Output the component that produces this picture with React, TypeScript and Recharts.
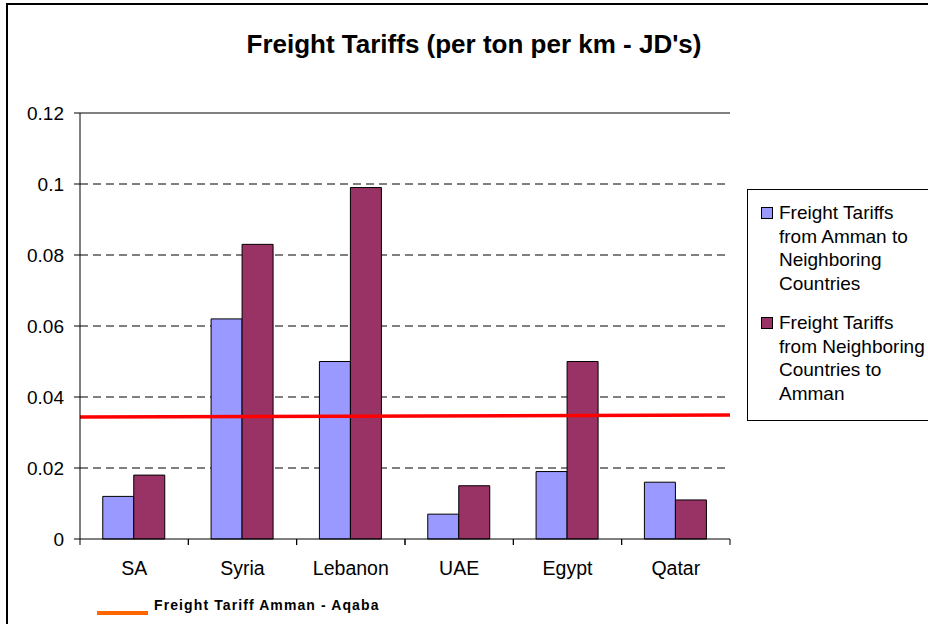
import { BarChart, Bar, XAxis, YAxis, CartesianGrid, ReferenceLine, Legend } from "recharts";

const CATEGORIES = ["SA", "Syria", "Lebanon", "UAE", "Egypt", "Qatar"];
const FROM_AMMAN = [0.012, 0.062, 0.05, 0.007, 0.019, 0.016];
const TO_AMMAN = [0.018, 0.083, 0.099, 0.015, 0.05, 0.011];
const Y_TICKS = [0, 0.02, 0.04, 0.06, 0.08, 0.1, 0.12];
// Amman - Aqaba tariff, value at the left and right end of the drawn line
const AQABA_TARIFF = [0.0344, 0.035];

const TITLE = "Freight Tariffs (per ton per km - JD's)";
const SERIES = [
  { key: "fromAmman", name: "Freight Tariffs from Amman to Neighboring Countries", lines: ["Freight Tariffs", "from Amman to", "Neighboring", "Countries"], color: "#9999FF" },
  { key: "toAmman", name: "Freight Tariffs from Neighboring Countries to Amman", lines: ["Freight Tariffs", "from Neighboring", "Countries to", "Amman"], color: "#993366" },
];
const LINE_LABEL = "Freight Tariff Amman - Aqaba";

const data = CATEGORIES.map((c, i) => ({ name: c, fromAmman: FROM_AMMAN[i], toAmman: TO_AMMAN[i] }));

const FONT = "'Liberation Sans', Arial, sans-serif";
const W = 928;
const H = 624;
const MARGIN = { top: 113, right: 198, bottom: 35, left: 0 };
const Y_W = 80;
const CAT_W = (W - MARGIN.left - MARGIN.right - Y_W) / CATEGORIES.length;

function CatTick(props: any) {
  const { x, y, payload } = props;
  return (
    <g>
      <line x1={x - CAT_W / 2} x2={x - CAT_W / 2} y1={y - 6} y2={y} stroke="#000" />
      <line x1={x + CAT_W / 2} x2={x + CAT_W / 2} y1={y - 6} y2={y} stroke="#000" />
      <text x={x} y={y + 30} textAnchor="middle" fontSize={19.5} fontFamily={FONT} fill="#000">
        {payload.value}
      </text>
    </g>
  );
}

function Legends() {
  return (
    <div style={{ position: "relative", width: W, height: H, fontFamily: FONT, color: "#000" }}>
      <div style={{ position: "absolute", left: 747, top: 189, width: 200, height: 230, border: "1px solid #000", background: "#fff" }}>
        {SERIES.map((s, i) => (
          <div key={s.key} style={{ position: "absolute", left: 0, top: 11 + i * 110 }}>
            <div style={{ position: "absolute", left: 13, top: 6, width: 10, height: 10, background: s.color, border: "1px solid #000" }} />
            <div style={{ position: "absolute", left: 31, top: 0, fontSize: 19, lineHeight: "23.5px", whiteSpace: "nowrap" }}>
              {s.lines.map((l) => (
                <div key={l}>{l}</div>
              ))}
            </div>
          </div>
        ))}
      </div>
      <div style={{ position: "absolute", left: 97, top: 611, width: 51, height: 3.5, background: "#FF6600" }} />
      <div style={{ position: "absolute", left: 154, top: 598, fontSize: 14, lineHeight: "14px", fontWeight: "bold", letterSpacing: 1.1, whiteSpace: "nowrap" }}>
        {LINE_LABEL}
      </div>
    </div>
  );
}

export default function App() {
  return (
    <div style={{ position: "absolute", left: 0, top: 0, width: W, height: H, overflow: "hidden", background: "#fff", fontFamily: FONT }}>
      <div style={{ position: "absolute", left: 6, top: 3, width: W, height: H, borderLeft: "2px solid #000", borderTop: "2px solid #000" }} />
      <div style={{ position: "absolute", left: 174, width: 600, top: 31, textAlign: "center", fontSize: 26, lineHeight: 1, fontWeight: "bold", whiteSpace: "nowrap" }}>
        {TITLE}
      </div>
      <BarChart width={W} height={H} data={data} margin={MARGIN} barCategoryGap="21%" barGap={0}>
        <CartesianGrid vertical={false} horizontalValues={[0.02, 0.04, 0.06, 0.08, 0.1]} stroke="#000" strokeDasharray="8 5" />
        <XAxis xAxisId="cat" dataKey="name" height={50} tickSize={6} tickMargin={0} tickLine={false} axisLine={{ stroke: "#000" }} tick={<CatTick />} interval={0} />
        <XAxis xAxisId="n" type="number" domain={[0, CATEGORIES.length]} allowDataOverflow hide />
        <YAxis
          width={Y_W}
          domain={[0, 0.12]}
          ticks={Y_TICKS}
          tickSize={6}
          tickMargin={10}
          tickLine={{ stroke: "#000" }}
          axisLine={{ stroke: "#000" }}
          tick={{ fontSize: 19, fill: "#000", fontFamily: FONT }}
          tickFormatter={(v: number) => String(v)}
        />
        <ReferenceLine xAxisId="n" y={0.12} stroke="#808080" strokeWidth={2} />
        <ReferenceLine xAxisId="n" x={CATEGORIES.length} stroke="#808080" strokeWidth={2} />
        {SERIES.map((s) => (
          <Bar key={s.key} xAxisId="cat" dataKey={s.key} name={s.name} fill={s.color} stroke="#000" strokeWidth={1} isAnimationActive={false} />
        ))}
        <ReferenceLine
          xAxisId="n"
          segment={[{ x: 0, y: AQABA_TARIFF[0] }, { x: CATEGORIES.length, y: AQABA_TARIFF[1] }]}
          stroke="#FF0000"
          strokeWidth={3.5}
          ifOverflow="hidden"
        />
        <Legend layout="vertical" align="center" verticalAlign="middle" wrapperStyle={{ left: 0, top: 0, width: W, height: H, pointerEvents: "none" }} content={() => <Legends />} />
      </BarChart>
    </div>
  );
}
